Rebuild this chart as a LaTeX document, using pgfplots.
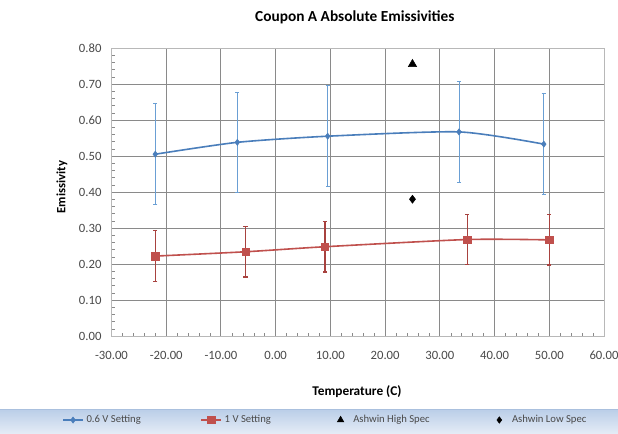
\documentclass[border=0pt]{standalone}
\usepackage{pgfplots}
\pgfplotsset{compat=1.18}
\usepackage{fontspec}
\setmainfont{Carlito}
\definecolor{blueline}{HTML}{4A7EBB}
\definecolor{blueerr}{HTML}{6A9FD4}
\definecolor{redline}{HTML}{C0504D}
\definecolor{rederr}{HTML}{A8423F}
\definecolor{gridgray}{HTML}{8A8A8A}
\definecolor{boxgray}{HTML}{B8B8B8}
\definecolor{ticktext}{HTML}{4A4A4A}
\definecolor{bandtop}{RGB}{186,206,232}
\definecolor{bandbot}{RGB}{228,235,246}
\definecolor{bandline}{RGB}{170,192,222}
\begin{document}
\begin{tikzpicture}
% whole picture: 618 x 433 px at 0.75pt/px, origin = axis lower-left corner
\useasboundingbox (-83.625pt,-72.75pt) rectangle (379.875pt,252pt);
\fill[white] (-83.625pt,-72.75pt) rectangle (379.875pt,252pt);
\shade[top color=bandtop, bottom color=bandbot]
  (-83.625pt,-72.75pt) rectangle (379.875pt,-54.75pt);
\draw[color=bandline, line width=0.6pt] (-83.625pt,-54.75pt) -- (379.875pt,-54.75pt);
\begin{axis}[
  at={(0pt,0pt)}, anchor=south west,
  scale only axis, width=369.375pt, height=216pt,
  xmin=-30, xmax=60, ymin=0, ymax=0.8,
  xtick={-30,-20,...,60}, ytick={0,0.1,...,0.8},
  minor tick num=4,
  xtick pos=left, ytick pos=left, tick align=inside,
  major tick length=0pt, minor tick length=2.5pt,
  minor tick style={draw=gridgray, line width=0.4pt},
  grid=major, major grid style={draw=gridgray, line width=0.75pt},
  axis line style={draw=boxgray, line width=0.6pt},
  /pgf/number format/assume math mode=true,
  /pgf/number format/.cd, fixed, fixed zerofill, precision=2, /pgfplots/.cd,
  ticklabel style={font=\fontsize{9.5}{11}\selectfont, text=ticktext},
  yticklabel style={xshift=-4pt},
  xticklabel style={yshift=-8pt},
  title={Coupon A Absolute Emissivities},
  title style={font=\fontsize{11.5}{13}\selectfont\bfseries, at={(axis description cs:0.494,1.08)}, anchor=center},
  xlabel={Temperature (C)},
  xlabel style={font=\fontsize{10}{12}\selectfont\bfseries, at={(axis description cs:0.4985,-0.194)}, anchor=center},
  ylabel={Emissivity},
  ylabel style={font=\fontsize{9.5}{11}\selectfont\bfseries, at={(axis description cs:-0.1005,0.517)}, anchor=center},
  legend columns=4,
  legend style={at={(axis description cs:0.4335,-0.2917)}, anchor=center, draw=none, fill=none,
    font=\fontsize{8}{10}\selectfont, text=ticktext, nodes={inner sep=1pt},
    /tikz/every odd column/.append style={column sep=1pt},
    /tikz/every even column/.append style={column sep=43.75pt}},
  legend image code/.code={\path[draw=none,fill=none] (0pt,-3pt) (15pt,3pt);\draw[mark repeat=2,mark phase=2] plot coordinates {(0pt,0pt) (7.5pt,0pt) (15pt,0pt)};},
]
\addplot[color=blueline, line width=1.2pt, smooth, tension=0.4, mark=diamond*, mark size=2.3pt,
  mark options={fill=blueline, line width=0.4pt},
  error bars/.cd, y dir=both, y explicit,
  error bar style={color=blueerr, line width=0.6pt},
  error mark options={rotate=90, mark size=1.6pt, color=blueerr, line width=0.6pt}]
coordinates {(-22,0.505) +- (0,0.14) (-7,0.538) +- (0,0.14) (9.5,0.555) +- (0,0.14) (33.5,0.567) +- (0,0.14) (49,0.533) +- (0,0.14)};
\addlegendentry{0.6 V Setting}
\addplot[color=redline, line width=1.2pt, smooth, tension=0.4, mark=square*, mark size=2.8pt,
  mark options={fill=redline, line width=0.4pt},
  error bars/.cd, y dir=both, y explicit,
  error bar style={color=rederr, line width=0.9pt},
  error mark options={rotate=90, mark size=1.6pt, color=rederr, line width=0.9pt}]
coordinates {(-22,0.222) +- (0,0.07) (-5.5,0.234) +- (0,0.07) (9,0.248) +- (0,0.07) (35,0.268) +- (0,0.07) (50,0.267) +- (0,0.07)};
\addlegendentry{1 V Setting}
\addplot[only marks, mark=triangle*, mark size=3.6pt, color=black,
  legend image code/.code={\path[draw=none,fill=none] (0pt,-3pt) (15pt,3pt);\draw[mark repeat=2,mark phase=2, mark size=2.8pt] plot coordinates {(0pt,0pt) (7.5pt,0pt) (15pt,0pt)};}]
  coordinates {(25,0.755)};
\addlegendentry{Ashwin High Spec}
\addplot[only marks, mark=diamond*, mark size=3pt, color=black,
  legend image code/.code={\path[draw=none,fill=none] (0pt,-3pt) (15pt,3pt);\draw[mark repeat=2,mark phase=2, mark size=2.4pt] plot coordinates {(0pt,0pt) (7.5pt,0pt) (15pt,0pt)};}]
  coordinates {(25,0.38)};
\addlegendentry{Ashwin Low Spec}
\end{axis}
\end{tikzpicture}
\end{document}
